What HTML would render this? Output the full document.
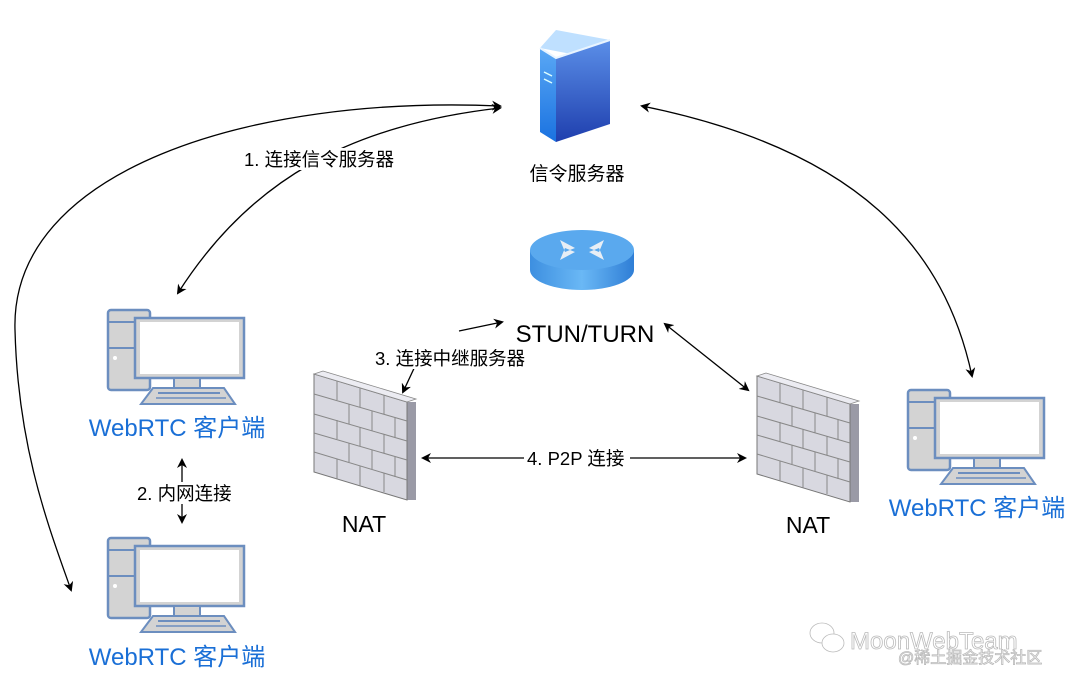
<!DOCTYPE html>
<html><head><meta charset="utf-8"><style>
body{margin:0;background:#fff;}
svg{display:block;font-family:"Liberation Sans","Noto Sans CJK SC",sans-serif;}
</style></head><body>
<svg width="1080" height="686" viewBox="0 0 1080 686" xmlns="http://www.w3.org/2000/svg">
<defs>
<marker id="a" markerWidth="10" markerHeight="10" refX="8" refY="5" orient="auto-start-reverse" markerUnits="userSpaceOnUse"><path d="M0,0 L10,5 L0,10 L3,5 Z" fill="#000"/></marker>
<linearGradient id="sf" x1="0" y1="0" x2="0" y2="1"><stop offset="0" stop-color="#5aa8f5"/><stop offset="1" stop-color="#1a72e0"/></linearGradient>
<linearGradient id="ss" x1="0" y1="0" x2="0" y2="1"><stop offset="0" stop-color="#5b8fe8"/><stop offset="1" stop-color="#1f3fae"/></linearGradient>
<linearGradient id="rt" x1="0" y1="0" x2="1" y2="0"><stop offset="0" stop-color="#3d8fe0"/><stop offset="0.5" stop-color="#6ab8f5"/><stop offset="1" stop-color="#2f7ed6"/></linearGradient>
<g id="pc">
<rect x="0" y="0" width="42" height="80" rx="3" fill="#d3d3d3" stroke="#6c8ebf" stroke-width="2.5"/>
<line x1="0" y1="12" x2="42" y2="12" stroke="#6c8ebf" stroke-width="2"/>
<line x1="0" y1="38" x2="42" y2="38" stroke="#6c8ebf" stroke-width="2"/>
<circle cx="7" cy="48" r="2" fill="#fff"/>
<rect x="27" y="8" width="109" height="60" fill="#d3d3d3" stroke="#6c8ebf" stroke-width="2.5"/>
<rect x="32" y="12" width="99" height="52" fill="#fff"/>
<rect x="66" y="68" width="26" height="10" fill="#d3d3d3" stroke="#6c8ebf" stroke-width="2"/>
<path d="M45,78 L116,78 L127,94 L33,94 Z" fill="#d3d3d3" stroke="#6c8ebf" stroke-width="2"/>
<line x1="50" y1="83" x2="112" y2="83" stroke="#6c8ebf" stroke-width="2"/>
<line x1="48" y1="88" x2="118" y2="88" stroke="#6c8ebf" stroke-width="1.5"/>
</g>
<g id="fw">
<path d="M0,0 L93,28 L102,28 L102,126 L93,126 L0,98 Z" fill="#9a9aa6"/>
<path d="M0,0 L93,28 L93,126 L0,98 Z" fill="#d8d8e0" stroke="#777" stroke-width="1"/>
<path d="M0,0 L9,-3 L102,25 L93,28 Z" fill="#ececf2" stroke="#888" stroke-width="0.8"/>
<g stroke="#888" stroke-width="1" fill="none">
<path d="M0,20 L93,47 M0,40 L93,67 M0,59 L93,86 M0,78 L93,106"/>
<path d="M23,7 L23,26 M46,14 L46,33 M70,21 L70,40 M35,30 L35,50 M58,37 L58,57 M81,44 L81,64 M23,46 L23,65 M46,53 L46,72 M70,60 L70,79 M35,69 L35,88 M58,76 L58,95 M81,83 L81,103 M23,85 L23,105 M46,92 L46,112 M70,99 L70,118"/>
</g>
</g>
</defs>

<!-- server -->
<path d="M540,48 L556,30 L610,40 L592,58 Z" fill="#bfe0ff"/>
<path d="M540,48 L556,58 L556,142 L540,132 Z" fill="url(#sf)"/>
<path d="M556,58 L610,40 L610,124 L556,142 Z" fill="url(#ss)"/>
<path d="M540,48 L556,58 L610,40" fill="none" stroke="#e8f4ff" stroke-width="2"/>
<line x1="544" y1="72" x2="552" y2="76" stroke="#dff" stroke-width="1.5"/>
<line x1="544" y1="79" x2="552" y2="83" stroke="#dff" stroke-width="1.5"/>
<text x="577" y="180" font-size="19" text-anchor="middle">信令服务器</text>

<!-- router -->
<path d="M530,250 L530,270 A52,20 0 0 0 634,270 L634,250 Z" fill="url(#rt)"/>
<ellipse cx="582" cy="250" rx="52" ry="20" fill="#5aa9ee"/>
<path d="M560,240 L575,248 L565,252 Z M604,240 L589,248 L599,252 Z M560,260 L575,252 L565,248 Z M604,260 L589,252 L599,248 Z" fill="#e8eef5"/>
<text x="585" y="342" font-size="24" text-anchor="middle">STUN/TURN</text>

<!-- computers -->
<use href="#pc" x="108" y="310"/>
<use href="#pc" x="108" y="538"/>
<use href="#pc" x="908" y="390"/>
<text x="177" y="436" font-size="24" fill="#1a6fd6" text-anchor="middle">WebRTC 客户端</text>
<text x="177" y="665" font-size="24" fill="#1a6fd6" text-anchor="middle">WebRTC 客户端</text>
<text x="977" y="516" font-size="24" fill="#1a6fd6" text-anchor="middle">WebRTC 客户端</text>

<!-- firewalls -->
<use href="#fw" x="314" y="374"/>
<use href="#fw" x="757" y="376"/>
<text x="364" y="532" font-size="23" text-anchor="middle">NAT</text>
<text x="808" y="533" font-size="23" text-anchor="middle">NAT</text>

<!-- connectors -->
<g fill="none" stroke="#000" stroke-width="1.3">
<path d="M500,106 C 250,95 10,170 15,330 C 18,450 50,530 71,590" marker-start="url(#a)" marker-end="url(#a)"/>
<path d="M500,108 C 350,125 250,180 178,293" marker-start="url(#a)" marker-end="url(#a)"/>
<path d="M642,106 C 860,150 945,250 972,376" marker-start="url(#a)" marker-end="url(#a)"/>
<path d="M182,460 L182,522" marker-start="url(#a)" marker-end="url(#a)"/>
<path d="M459,331 L502,322" marker-end="url(#a)"/>
<path d="M417,362 L403,392" marker-end="url(#a)"/>
<path d="M665,324 L748,390" marker-start="url(#a)" marker-end="url(#a)"/>
<path d="M423,458 L745,458" marker-start="url(#a)" marker-end="url(#a)"/>
</g>
<g font-size="18.5">
<rect x="240" y="148" width="160" height="22" fill="#fff"/>
<text x="244" y="166">1. 连接信令服务器</text>
<rect x="134" y="482" width="104" height="22" fill="#fff"/>
<text x="137" y="500">2. 内网连接</text>
<rect x="372" y="347" width="160" height="22" fill="#fff"/>
<text x="375" y="365">3. 连接中继服务器</text>
<rect x="524" y="448" width="106" height="22" fill="#fff"/>
<text x="527" y="465">4. P2P 连接</text>
</g>

<!-- watermark -->
<g fill="#fff" stroke="#bbb" stroke-width="0.8">
<text x="850" y="649" font-size="24">MoonWebTeam</text>
<text x="898" y="663" font-size="16">@稀土掘金技术社区</text>
<ellipse cx="822" cy="633" rx="12" ry="10"/>
<ellipse cx="833" cy="643" rx="11" ry="9"/>
</g>
</svg>
</body></html>
